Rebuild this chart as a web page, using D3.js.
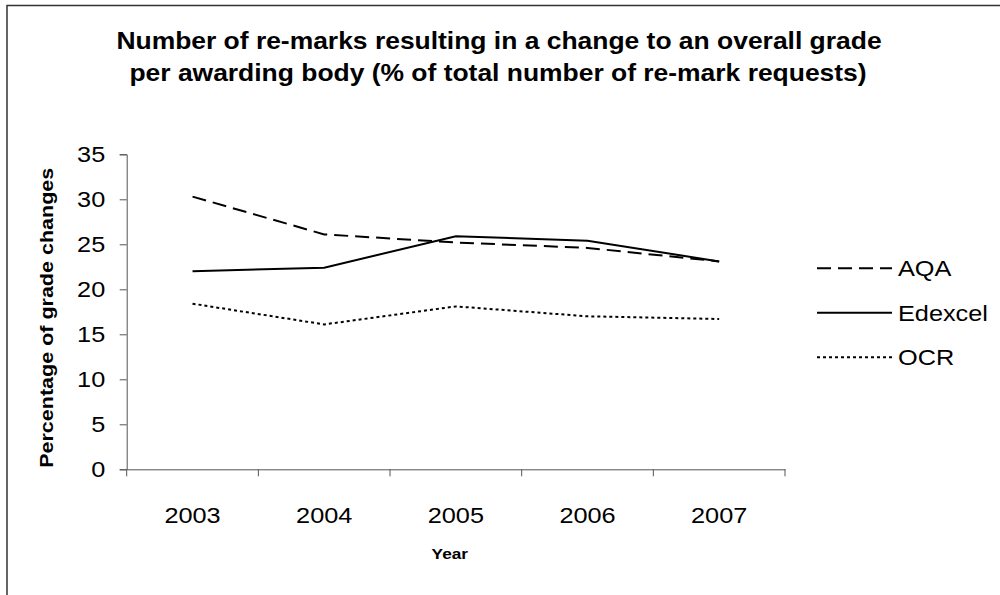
<!DOCTYPE html>
<html>
<head>
<meta charset="utf-8">
<script src="https://cdn.jsdelivr.net/npm/d3@7"></script>
<style>
  body { margin: 0; background: #fff; }
  svg { display: block; font-family: "Liberation Sans", Arial, sans-serif; }
</style>
</head>
<body>
<svg width="1000" height="595"></svg>
<script>
const years = ['2003', '2004', '2005', '2006', '2007'];
const aqa = [30.3, 26.1, 25.2, 24.6, 23.1];
const edexcel = [22.0, 22.4, 25.9, 25.4, 23.1];
const ocr = [18.4, 16.1, 18.1, 17.0, 16.7];
const yTicks = [0, 5, 10, 15, 20, 25, 30, 35];

const series = [
  { name: 'AQA', values: aqa, dash: '14,7' },
  { name: 'Edexcel', values: edexcel, dash: null },
  { name: 'OCR', values: ocr, dash: '3,3' },
];

// the original export is a bit wide, so text gets stretched sideways
const stretch = 1.15;

const svg = d3.select('svg');

// outer frame, runs off the right and bottom edges
svg.append('rect')
  .attr('x', 7).attr('y', 5.5)
  .attr('width', 1010).attr('height', 620)
  .attr('fill', 'none')
  .attr('stroke', '#333')
  .attr('stroke-width', 1.5);

const plotL = 126.7, plotR = 785, plotT = 154.3, plotB = 469.3;

const x = d3.scaleBand().domain(years).range([plotL, plotR]);
const y = d3.scaleLinear().domain([0, 35]).range([plotB, plotT]);

function label(px, py, str, size, bold, anchor) {
  return svg.append('text')
    .attr('transform', `translate(${px},${py}) scale(${stretch},1)`)
    .attr('text-anchor', anchor || 'middle')
    .attr('font-weight', bold ? 'bold' : null)
    .attr('font-size', size)
    .text(str);
}

// title
label(499, 48.5, 'Number of re-marks resulting in a change to an overall grade', 23, true);
label(498, 80.5, 'per awarding body (% of total number of re-mark requests)', 23, true);

// y axis
const yAxis = svg.append('g')
  .attr('transform', `translate(${plotL},0)`)
  .call(d3.axisLeft(y).tickValues(yTicks).tickSize(7).tickPadding(6));
yAxis.selectAll('text')
  .attr('font-size', 22).attr('fill', '#000').attr('font-family', null)
  .attr('x', -21.5 / stretch)
  .attr('transform', `scale(${stretch},1)`);
yAxis.selectAll('line, path').attr('stroke', '#555');

// x axis: labels centred in bands, ticks on band edges
const xAxis = svg.append('g')
  .attr('transform', `translate(0,${plotB})`)
  .call(d3.axisBottom(x).tickSize(0).tickPadding(38));
xAxis.selectAll('text')
  .attr('font-size', 22).attr('fill', '#000').attr('font-family', null)
  .attr('transform', `scale(${stretch},1)`);
xAxis.select('path').attr('stroke', '#555');
xAxis.selectAll('.edge')
  .data(years.map(d => x(d)).concat([plotR]))
  .enter().append('line')
  .attr('class', 'edge')
  .attr('x1', d => d).attr('x2', d => d)
  .attr('y1', 0).attr('y2', 7)
  .attr('stroke', '#555');

// axis titles
label((plotL + plotR) / 2 - 6, 559, 'Year', 15, true);
svg.append('text')
  .attr('transform', `translate(53,${(plotT + plotB) / 2 + 6}) rotate(-90)`)
  .attr('text-anchor', 'middle')
  .attr('font-weight', 'bold')
  .attr('font-size', 18)
  .attr('textLength', 300)
  .attr('lengthAdjust', 'spacingAndGlyphs')
  .text('Percentage of grade changes');

// lines
const line = d3.line()
  .x((d, i) => x(years[i]) + x.bandwidth() / 2)
  .y(d => y(d));

svg.append('g')
  .selectAll('path')
  .data(series)
  .enter()
  .append('path')
  .attr('d', d => line(d.values))
  .attr('fill', 'none')
  .attr('stroke', '#000')
  .attr('stroke-width', 2)
  .attr('stroke-dasharray', d => d.dash);

// legend
const legend = svg.append('g')
  .selectAll('g')
  .data(series)
  .enter()
  .append('g')
  .attr('transform', (d, i) => `translate(817,${268.3 + i * 44.5})`);
legend.append('line')
  .attr('x1', 0).attr('x2', 75)
  .attr('stroke', '#000')
  .attr('stroke-width', 2)
  .attr('stroke-dasharray', d => d.dash);
legend.append('text')
  .attr('transform', `translate(81,8) scale(${stretch},1)`)
  .attr('font-size', 22)
  .text(d => d.name);
</script>
</body>
</html>
